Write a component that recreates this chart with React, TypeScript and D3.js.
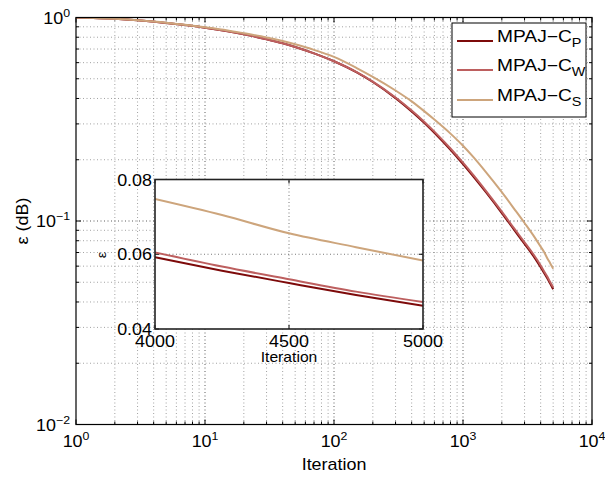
import React from "react";
import * as d3 from "d3";

const iterations = [1, 2, 3, 5, 7, 10, 15, 20, 30, 40, 50, 70, 100, 150, 200, 300, 400, 500, 600, 800, 1000, 1200, 1500, 2000, 2500, 3000, 3500, 4000, 4250, 4500, 4750, 5000];
const seriesP = [1.0, 0.985, 0.9685, 0.9407, 0.9182, 0.8913, 0.8556, 0.827, 0.7822, 0.7471, 0.7166, 0.6667, 0.6095, 0.5375, 0.4819, 0.4016, 0.3457, 0.3041, 0.2716, 0.224, 0.1905, 0.1658, 0.1389, 0.1094, 0.0902, 0.0772, 0.0675, 0.0592, 0.0556, 0.0523, 0.0491, 0.0462];
const seriesW = [1.0, 0.985, 0.9685, 0.9407, 0.9182, 0.8913, 0.8556, 0.827, 0.7822, 0.7471, 0.7166, 0.6667, 0.6095, 0.5391, 0.4843, 0.4048, 0.3492, 0.3077, 0.2749, 0.2271, 0.1935, 0.1685, 0.1411, 0.1112, 0.0917, 0.0786, 0.0688, 0.0605, 0.0567, 0.0533, 0.05, 0.0472];
const seriesS = [1.0, 0.985, 0.9685, 0.9426, 0.921, 0.8958, 0.8642, 0.8369, 0.7978, 0.7658, 0.7381, 0.6934, 0.64, 0.5644, 0.5108, 0.4377, 0.3872, 0.3467, 0.3151, 0.2688, 0.2343, 0.2064, 0.1743, 0.1385, 0.1145, 0.0978, 0.0852, 0.0748, 0.0705, 0.0656, 0.0619, 0.0583];

const seriesNames = ["P", "W", "S"];
const seriesColors = ["#7d0a0a", "#bd5f5f", "#cda57c"];
const seriesData = [seriesP, seriesW, seriesS];

const xDecades = [0, 1, 2, 3, 4];
const yDecades = [-2, -1, 0];
const insetXTicks = [4000, 4500, 5000];
const insetYTicks = [0.04, 0.06, 0.08];

const FONT = "'Liberation Sans', Arial, Helvetica, sans-serif";
const SX = 1.12;

function T({ x, y, anchor = "start", size = 15, rotate = 0, sx = SX, children }: any) {
  return (
    <text
      transform={`translate(${x},${y})${rotate ? ` rotate(${rotate})` : ""} scale(${sx},1)`}
      textAnchor={anchor}
      fontSize={size}
      fontFamily={FONT}
      fill="#000"
    >
      {children}
    </text>
  );
}

export default function App() {
  const W = 605, H = 478;
  const x = d3.scaleLog().domain([1, 1e4]).range([76, 592]);
  const y = d3.scaleLog().domain([0.01, 1]).range([424.5, 17.5]);
  const [x0, x1] = x.range();
  const [y0, y1] = y.range();

  const ix = d3.scaleLinear().domain([4000, 5000]).range([155, 423]);
  const iy = d3.scaleLinear().domain([0.04, 0.08]).range([329, 179.5]);

  const minorX: number[] = [];
  for (let d = 0; d < 4; d++) for (let k = 2; k <= 9; k++) minorX.push(k * Math.pow(10, d));
  const minorY: number[] = [];
  for (let d = -2; d < 0; d++) for (let k = 2; k <= 9; k++) minorY.push(k * Math.pow(10, d));

  const line = d3
    .line<number>()
    .x((_, i) => x(iterations[i]))
    .y((v) => y(v))
    .curve(d3.curveMonotoneX);

  const insetIdx = iterations.map((it, i) => (it >= 4000 ? i : -1)).filter((i) => i >= 0);
  const iline = (vals: number[]) =>
    d3
      .line<number>()
      .x((i) => ix(iterations[i]))
      .y((i) => iy(vals[i]))
      .curve(d3.curveMonotoneX)(insetIdx);

  const dot = "1 2.5";
  const tickL = 5;
  const mTickL = 3;

  return (
    <svg width={W} height={H} style={{ position: "absolute", left: 0, top: 0, background: "#fff" }}>
      <defs>
        <clipPath id="mainClip">
          <rect x={x0} y={y1} width={x1 - x0} height={y0 - y1} />
        </clipPath>
        <clipPath id="insetClip">
          <rect x={155} y={179.5} width={268} height={149.5} />
        </clipPath>
      </defs>
      <rect x={0} y={0} width={W} height={H} fill="#fff" />
      {/* minor grid */}
      <g stroke="#8a8a8a" strokeWidth={0.8} strokeDasharray={dot}>
        {minorX.map((v) => (
          <line key={"mx" + v} x1={x(v)} x2={x(v)} y1={y0} y2={y1} />
        ))}
        {minorY.map((v) => (
          <line key={"my" + v} x1={x0} x2={x1} y1={y(v)} y2={y(v)} />
        ))}
      </g>
      {/* major grid */}
      <g stroke="#333" strokeWidth={0.8} strokeDasharray={dot}>
        {xDecades.slice(1, -1).map((d) => (
          <line key={"gx" + d} x1={x(Math.pow(10, d))} x2={x(Math.pow(10, d))} y1={y0} y2={y1} />
        ))}
        {yDecades.slice(1, -1).map((d) => (
          <line key={"gy" + d} x1={x0} x2={x1} y1={y(Math.pow(10, d))} y2={y(Math.pow(10, d))} />
        ))}
      </g>
      {/* ticks */}
      <g stroke="#000" strokeWidth={1}>
        {minorX.map((v) => (
          <g key={"tx" + v}>
            <line x1={x(v)} x2={x(v)} y1={y0} y2={y0 - mTickL} />
            <line x1={x(v)} x2={x(v)} y1={y1} y2={y1 + mTickL} />
          </g>
        ))}
        {minorY.map((v) => (
          <g key={"ty" + v}>
            <line x1={x0} x2={x0 + mTickL} y1={y(v)} y2={y(v)} />
            <line x1={x1} x2={x1 - mTickL} y1={y(v)} y2={y(v)} />
          </g>
        ))}
        {xDecades.map((d) => (
          <g key={"Tx" + d}>
            <line x1={x(Math.pow(10, d))} x2={x(Math.pow(10, d))} y1={y0} y2={y0 - tickL} />
            <line x1={x(Math.pow(10, d))} x2={x(Math.pow(10, d))} y1={y1} y2={y1 + tickL} />
          </g>
        ))}
        {yDecades.map((d) => (
          <g key={"Ty" + d}>
            <line x1={x0} x2={x0 + tickL} y1={y(Math.pow(10, d))} y2={y(Math.pow(10, d))} />
            <line x1={x1} x2={x1 - tickL} y1={y(Math.pow(10, d))} y2={y(Math.pow(10, d))} />
          </g>
        ))}
      </g>
      {/* curves */}
      <g clipPath="url(#mainClip)" fill="none" strokeWidth={2}>
        {seriesData.map((s, i) => (
          <path key={"c" + i} d={line(s) || ""} stroke={seriesColors[i]} />
        ))}
      </g>
      {/* axes box */}
      <rect x={x0} y={y1} width={x1 - x0} height={y0 - y1} fill="none" stroke="#000" strokeWidth={1.2} />
      {/* tick labels */}
      {xDecades.map((d) => (
        <T key={"lx" + d} x={x(Math.pow(10, d))} y={447} anchor="middle" size={16}>
          10<tspan dy={-7} fontSize={11}>{d}</tspan>
        </T>
      ))}
      {yDecades.map((d) => (
        <T key={"ly" + d} x={70} y={y(Math.pow(10, d)) + 6} anchor="end" size={16}>
          10<tspan dy={-7} fontSize={11}>{d < 0 ? "\u2212" + Math.abs(d) : d}</tspan>
        </T>
      ))}
      <T x={334} y={470} anchor="middle" size={16}>Iteration</T>
      <T x={28} y={221} anchor="middle" size={16} rotate={-90}>ε (dB)</T>

      {/* legend */}
      <rect x={452} y={23} width={134} height={94} fill="#fff" stroke="#000" strokeWidth={1} />
      {seriesNames.map((n, i) => {
        const ly = [41, 70, 100][i];
        return (
          <g key={"lg" + n}>
            <line x1={457} x2={493} y1={ly} y2={ly} stroke={seriesColors[i]} strokeWidth={2} />
            <T x={497} y={ly + 1} size={16} sx={1.2}>
              MPAJ−C<tspan dy={5} fontSize={12}>{n}</tspan>
            </T>
          </g>
        );
      })}

      {/* inset */}
      <rect x={155} y={179.5} width={268} height={149.5} fill="#fff" />
      <g stroke="#555" strokeWidth={0.8} strokeDasharray={dot}>
        <line x1={ix(4500)} x2={ix(4500)} y1={329} y2={179.5} />
        <line x1={155} x2={423} y1={iy(0.06)} y2={iy(0.06)} />
      </g>
      <g stroke="#000" strokeWidth={1}>
        {insetXTicks.map((t) => (
          <g key={"itx" + t}>
            <line x1={ix(t)} x2={ix(t)} y1={329} y2={329 - 4} />
            <line x1={ix(t)} x2={ix(t)} y1={179.5} y2={179.5 + 4} />
          </g>
        ))}
        {insetYTicks.map((t) => (
          <g key={"ity" + t}>
            <line x1={155} x2={159} y1={iy(t)} y2={iy(t)} />
            <line x1={423} x2={419} y1={iy(t)} y2={iy(t)} />
          </g>
        ))}
      </g>
      <g clipPath="url(#insetClip)" fill="none" strokeWidth={2}>
        {seriesData.map((s, i) => (
          <path key={"ic" + i} d={iline(s) || ""} stroke={seriesColors[i]} />
        ))}
      </g>
      <rect x={155} y={179.5} width={268} height={149.5} fill="none" stroke="#222" strokeWidth={1.6} />
      {insetYTicks.map((t) => (
        <T key={"ily" + t} x={152} y={iy(t) + 6} anchor="end" size={16}>
          {d3.format(".2f")(t)}
        </T>
      ))}
      {insetXTicks.map((t) => (
        <T key={"ilx" + t} x={ix(t)} y={347} anchor="middle" size={16}>
          {t}
        </T>
      ))}
      <T x={289} y={362} anchor="middle" size={14}>Iteration</T>
      <T x={106} y={255} anchor="middle" size={13} rotate={-90}>ε</T>
    </svg>
  );
}
